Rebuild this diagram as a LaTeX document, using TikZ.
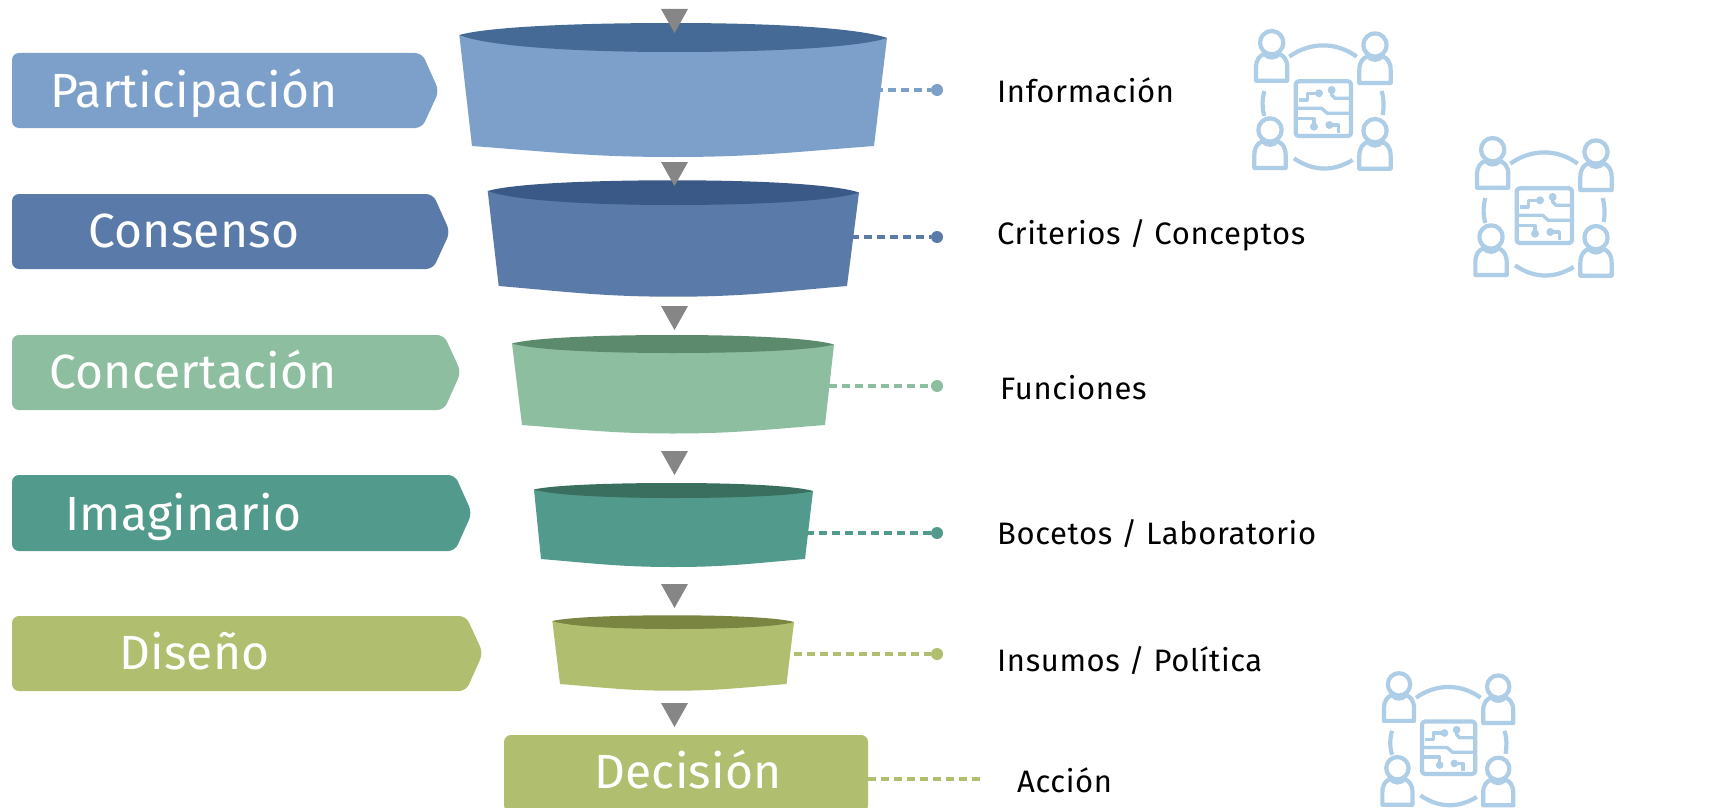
\documentclass[tikz,border=0pt]{standalone}
\usepackage{fontspec}
\setmainfont{Fira Sans}
\newfontfamily\tagfont[LetterSpace=0.6]{Fira Sans}
\newfontfamily\lblfont[LetterSpace=2]{Fira Sans}
\definecolor{cA}{HTML}{7DA0CA}\definecolor{cAd}{HTML}{466A96}
\definecolor{cB}{HTML}{5A7BA9}\definecolor{cBd}{HTML}{3A5986}
\definecolor{cC}{HTML}{8DBEA0}\definecolor{cCd}{HTML}{5B8A6D}
\definecolor{cD}{HTML}{529B8C}\definecolor{cDd}{HTML}{3A6F5F}
\definecolor{cE}{HTML}{B0BF6F}\definecolor{cEd}{HTML}{7A8542}
\definecolor{tri}{HTML}{868686}
\definecolor{icn}{HTML}{AECDE6}
% funnel body: colour, xl,yl,xr,yr, xbl,xbr,yb,ymid
\newcommand\funnelbody[9]{%
  \pgfmathsetmacro\fxm{(#2+#4)/2}%
  \pgfmathsetmacro\fh{(#7-#6)/2}%
  \pgfmathsetmacro\fca{#6+0.4*\fh}%
  \pgfmathsetmacro\fcb{\fxm-0.4*\fh}%
  \pgfmathsetmacro\fcc{\fxm+0.4*\fh}%
  \pgfmathsetmacro\fcd{#7-0.4*\fh}%
  \pgfmathsetmacro\fya{#8+0.55*(#9-#8)}%
  \fill[#1] (#2,#3) -- (#6,#8) .. controls (\fca,\fya) and (\fcb,#9) .. (\fxm,#9)
    .. controls (\fcc,#9) and (\fcd,\fya) .. (#7,#8) -- (#4,#5) -- cycle;
}
% funnel top: colour, xl,yl,xr,yr, ytop,ybot
\newcommand\funneltop[7]{%
  \pgfmathsetmacro\fxm{(#2+#4)/2}%
  \pgfmathsetmacro\fh{(#4-#2)/2}%
  \pgfmathsetmacro\fca{#2+0.12*\fh}%
  \pgfmathsetmacro\fcb{\fxm-0.5*\fh}%
  \pgfmathsetmacro\fcc{\fxm+0.5*\fh}%
  \pgfmathsetmacro\fcd{#4-0.12*\fh}%
  \pgfmathsetmacro\fyat{#6+0.38*(#3-#6)}%
  \pgfmathsetmacro\fybt{#6+0.38*(#5-#6)}%
  \pgfmathsetmacro\fyab{#7-0.38*(#7-#3)}%
  \pgfmathsetmacro\fybb{#7-0.38*(#7-#5)}%
  \fill[#1] (#2,#3) .. controls (\fca,\fyat) and (\fcb,#6) .. (\fxm,#6)
    .. controls (\fcc,#6) and (\fcd,\fybt) .. (#4,#5)
    .. controls (\fcd,\fybb) and (\fcc,#7) .. (\fxm,#7)
    .. controls (\fcb,#7) and (\fca,\fyab) .. (#2,#3) -- cycle;
}
\tikzset{
  tagbox/.style={rounded corners=7pt},
  tagtext/.style={anchor=base west,inner sep=0pt,text=white,font=\tagfont\fontsize{48}{48}\selectfont},
  lbl/.style={anchor=base west,inner sep=0pt,text=black,font=\lblfont\fontsize{31}{31}\selectfont},
  dots/.style={line width=4pt,dash pattern=on 8pt off 5pt},
  dotend/.style={circle,inner sep=0pt,minimum size=12pt},
  downtri/.style={fill=tri},
  person/.pic={
    \draw (-47,114) -- (47,114) -- (47,75) .. controls (47,50) and (35,38) .. (22,34)
      .. controls (10,48) and (-10,48) .. (-22,34) .. controls (-35,38) and (-47,50) .. (-47,75) -- cycle;
    \draw (0,0) circle (35);
  },
  teamicon/.pic={
    \begin{scope}[line width=4.2pt,draw=icn,line join=round,line cap=butt]
    \pic at (125,98) {person};
    \pic at (435,105) {person};
    \pic at (120,360) {person};
    \pic at (435,362) {person};
    \draw[rounded corners=3pt] (197,214) rectangle (363,378);
    \draw (178,140) .. controls (240,95) and (320,95) .. (380,140);
    \draw (192,445) .. controls (250,485) and (310,485) .. (368,450);
    \draw (103,243) .. controls (96,268) and (96,293) .. (103,318);
    \draw (455,243) .. controls (462,268) and (462,293) .. (458,315);
    \draw[line width=3.3pt] (267,250) -- (232,250) -- (232,270) -- (207,270);
    \draw[line width=3.3pt] (305,240) -- (305,255) -- (315,265) -- (362,265);
    \draw[line width=3.3pt] (197,295) -- (275,295) -- (292,310) -- (363,310);
    \draw[line width=3.3pt] (197,325) -- (252,325) -- (252,350);
    \draw[line width=3.3pt] (298,345) -- (325,345) -- (325,368);
    \fill[icn] (267,250) circle (12) (305,240) circle (12) (252,350) circle (12) (298,345) circle (12);
    \end{scope}
  }
}
\begin{document}
\begin{tikzpicture}[x=1pt,y=-1pt]
\useasboundingbox (0,0) rectangle (1729,808);
\fill[white] (0,0) rectangle (1729,808);
\clip (0,0) rectangle (1729,808);

% connector ends
\coordinate (f1) at (875,90);
\coordinate (f2) at (851,237);
\coordinate (f3) at (829,386);
\coordinate (f4) at (806,533);
\coordinate (f5) at (794,654);
\coordinate (f6) at (868,779);
\coordinate (e6) at (982,779);
\node[dotend,fill=cA] (d1) at (937,90) {};
\node[dotend,fill=cB] (d2) at (937,237) {};
\node[dotend,fill=cC] (d3) at (937,386) {};
\node[dotend,fill=cD] (d4) at (937,533) {};
\node[dotend,fill=cE] (d5) at (937,654) {};
\draw[dots,cA] (f1) -- (d1);
\draw[dots,cB] (f2) -- (d2);
\draw[dots,cC] (f3) -- (d3);
\draw[dots,cD] (f4) -- (d4);
\draw[dots,cE] (f5) -- (d5);
\draw[dots,cE] (f6) -- (e6);

% tags
\fill[cA,tagbox] (12,53) -- (422,53) -- (439,91) -- (422,128) -- (12,128) -- cycle;
\fill[cB,tagbox] (12,194) -- (433,194) -- (450,232) -- (433,269) -- (12,269) -- cycle;
\fill[cC,tagbox] (12,335) -- (444,335) -- (461,372) -- (444,410) -- (12,410) -- cycle;
\fill[cD,tagbox] (12,475) -- (455,475) -- (472,513) -- (455,551) -- (12,551) -- cycle;
\fill[cE,tagbox] (12,616) -- (466,616) -- (483,653) -- (466,691) -- (12,691) -- cycle;
\fill[cE,rounded corners=7pt] (504,735) rectangle (868,812);

% funnels
\funnelbody{cA}{459.3}{35}{887}{38}{472}{874}{146}{157}
\funneltop{cAd}{459.3}{35}{887}{38}{23}{52}
\funnelbody{cB}{487.7}{191}{859}{192.5}{498.7}{847}{286}{296.7}
\funneltop{cBd}{487.7}{191}{859}{192.5}{180.3}{205}
\funnelbody{cC}{512}{343.5}{834}{344.5}{522}{825}{425}{433.5}
\funneltop{cCd}{512}{343.5}{834}{344.5}{335}{353}
\funnelbody{cD}{534}{489.5}{813}{491}{541}{805}{559}{567}
\funneltop{cDd}{534}{489.5}{813}{491}{483}{498}
\funnelbody{cE}{552.3}{621}{794}{622}{560}{786.5}{684}{690.7}
\funneltop{cEd}{552.3}{621}{794}{622}{615.3}{629}

% triangles
\fill[downtri] (661,9) -- (688,9) -- (674.5,33) -- cycle;
\fill[downtri] (661,162) -- (688,162) -- (674.5,186) -- cycle;
\fill[downtri] (661,306) -- (688,306) -- (674.5,330) -- cycle;
\fill[downtri] (661,451) -- (688,451) -- (674.5,475) -- cycle;
\fill[downtri] (661,584) -- (688,584) -- (674.5,608) -- cycle;
\fill[downtri] (661,703) -- (688,703) -- (674.5,727) -- cycle;

% tag texts
\node[tagtext] (t1) at (50,107) {Participación};
\node[tagtext] (t2) at (88,247) {Consenso};
\node[tagtext] (t3) at (49,388) {Concertación};
\node[tagtext] (t4) at (65,530) {Imaginario};
\node[tagtext] (t5) at (119,669) {Diseño};
\node[tagtext] (t6) at (594,788) {Decisión};

% labels
\node[lbl] (l1) at (997,102) {Información};
\node[lbl] (l2) at (997,244) {Criterios / Conceptos};
\node[lbl] (l3) at (1000,399) {Funciones};
\node[lbl] (l4) at (997,544) {Bocetos / Laboratorio};
\node[lbl] (l5) at (997,671) {Insumos / Política};
\node[lbl] (l6) at (1017,792) {Acción};

% icons
\begin{scope}[shift={(1230,10)},x=0.3333pt,y=-0.3333pt]
 \pic {teamicon};
\end{scope}
\begin{scope}[shift={(1451,117)},x=0.3333pt,y=-0.3333pt]
 \pic {teamicon};
\end{scope}
\begin{scope}[shift={(1359,653)},x=0.3200pt,y=-0.3200pt]
 \pic {teamicon};
\end{scope}
\end{tikzpicture}
\end{document}
